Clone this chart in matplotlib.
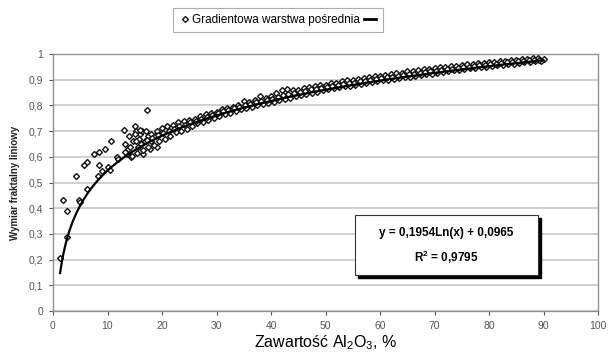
import numpy as np
import matplotlib
matplotlib.use("Agg")
import matplotlib.pyplot as plt
from matplotlib.lines import Line2D
from matplotlib.patches import Rectangle

plt.rcParams['font.family'] = ['Liberation Sans', 'DejaVu Sans']

# ---- data ----
early_x = [1.3, 1.9, 2.5, 2.5, 4.3, 4.8, 5.0, 5.6, 6.2, 6.3, 7.6, 8.4, 8.5, 8.3, 9.5, 8.9,
           10.6, 10.1, 10.4, 11.7, 12.0, 13.0, 13.2, 13.5, 17.2]
early_y = [0.205, 0.433, 0.389, 0.288, 0.526, 0.433, 0.425, 0.570, 0.579, 0.473, 0.611, 0.617,
           0.570, 0.527, 0.630, 0.543, 0.660, 0.559, 0.548, 0.598, 0.590, 0.704, 0.650, 0.610, 0.782]

cluster_x = [13.8, 14.0, 14.6, 15.0, 15.3, 15.8, 16.0, 16.3, 16.8, 17.5, 18.0, 18.8, 19.5,
             13.3, 14.3, 15.6, 16.6, 17.8, 19.0]
cluster_y = [0.63, 0.68, 0.66, 0.72, 0.70, 0.67, 0.69, 0.70, 0.66, 0.68, 0.66, 0.68, 0.69,
             0.62, 0.60, 0.64, 0.61, 0.63, 0.64]

upper_x = list(range(15, 91))
upper_y = [0.690, 0.705, 0.700, 0.690, 0.702, 0.712, 0.718, 0.722, 0.735, 0.738,
           0.745, 0.748, 0.758, 0.768, 0.772, 0.775, 0.785, 0.790, 0.795, 0.802,
           0.818, 0.812, 0.822, 0.838, 0.830, 0.838, 0.848, 0.860, 0.862, 0.858,
           0.860, 0.866, 0.870, 0.874, 0.878, 0.880, 0.886, 0.888, 0.893, 0.898,
           0.900, 0.904, 0.907, 0.910, 0.914, 0.916, 0.920, 0.922, 0.926, 0.928,
           0.932, 0.934, 0.937, 0.940, 0.943, 0.945, 0.948, 0.950, 0.953, 0.955,
           0.957, 0.960, 0.962, 0.964, 0.966, 0.968, 0.970, 0.972, 0.974, 0.976,
           0.978, 0.980, 0.982, 0.983, 0.984, 0.982]

lower_x = [v + 0.5 for v in range(14, 90)]
lower_y = [0.605, 0.615, 0.625, 0.640, 0.645, 0.660, 0.670, 0.680, 0.695, 0.700,
           0.710, 0.718, 0.730, 0.735, 0.745, 0.752, 0.760, 0.765, 0.772, 0.778,
           0.785, 0.790, 0.795, 0.800, 0.805, 0.810, 0.815, 0.820, 0.826, 0.830,
           0.836, 0.840, 0.846, 0.850, 0.854, 0.858, 0.862, 0.866, 0.870, 0.874,
           0.877, 0.880, 0.884, 0.888, 0.891, 0.894, 0.897, 0.900, 0.903, 0.906,
           0.909, 0.912, 0.916, 0.918, 0.921, 0.924, 0.927, 0.930, 0.933, 0.936,
           0.938, 0.941, 0.944, 0.946, 0.949, 0.951, 0.954, 0.956, 0.959, 0.961,
           0.963, 0.966, 0.968, 0.970, 0.972, 0.974]

middle_x = [v + 0.2 for v in range(14, 45)]
middle_y = [0.640, 0.660, 0.650, 0.665, 0.672, 0.685, 0.692, 0.700, 0.708, 0.718,
            0.725, 0.735, 0.740, 0.748, 0.755, 0.764, 0.770, 0.778, 0.782, 0.790,
            0.795, 0.800, 0.806, 0.812, 0.818, 0.822, 0.826, 0.832, 0.840, 0.845, 0.848]

middle2_x = [v + 0.25 for v in range(45, 90)]
middle2_y = [0.852, 0.857, 0.862, 0.864, 0.869, 0.872, 0.876, 0.880, 0.883, 0.887,
             0.889, 0.893, 0.896, 0.900, 0.903, 0.906, 0.909, 0.912, 0.915, 0.918,
             0.921, 0.924, 0.927, 0.929, 0.932, 0.935, 0.938, 0.940, 0.943, 0.946,
             0.948, 0.951, 0.953, 0.956, 0.958, 0.960, 0.962, 0.965, 0.967, 0.969,
             0.971, 0.973, 0.975, 0.977, 0.978]

trend_a = 0.1954
trend_b = 0.0965
series_label = "Gradientowa warstwa pośrednia"
x_ticks = [0, 10, 20, 30, 40, 50, 60, 70, 80, 90, 100]
y_ticks = [0, 0.1, 0.2, 0.3, 0.4, 0.5, 0.6, 0.7, 0.8, 0.9, 1.0]

xs = np.array(early_x + cluster_x + upper_x + lower_x + middle_x + middle2_x, dtype=float)
ys = np.array(early_y + cluster_y + upper_y + lower_y + middle_y + middle2_y, dtype=float)

# ---- figure ----
fig = plt.figure(figsize=(6.11, 3.60), dpi=100)
ax = fig.add_axes([53/611, 49/360, (598-53)/611, (311-54)/360])

ax.set_xlim(0, 100)
ax.set_ylim(0, 1)
ax.set_yticks(y_ticks)
ax.set_xticks(x_ticks)
ax.set_yticklabels([("%g" % v).replace('.', ',') for v in y_ticks])
ax.set_xticklabels([str(v) for v in x_ticks])
ax.tick_params(labelsize=7.5, colors='#555555', length=3, width=0.8, pad=4)
for sp in ax.spines.values():
    sp.set_color('#909090')
    sp.set_linewidth(1.0)
ax.yaxis.grid(True, color='#cccccc', linewidth=1.3)
ax.set_axisbelow(True)

ax.plot(xs, ys, linestyle='none', marker='D', markersize=3.0, markerfacecolor='white',
        markeredgecolor='#111111', markeredgewidth=1.0, zorder=3)

tx = np.linspace(xs.min(), xs.max(), 300)
ax.plot(tx, trend_a * np.log(tx) + trend_b, color='black', linewidth=1.6, zorder=4)

ax.set_ylabel("Wymiar fraktalny liniowy", fontsize=7, fontweight='bold', color='#222222', labelpad=6)
ax.set_xlabel("Zawartość Al$\\mathregular{_2}$O$\\mathregular{_3}$, %", fontsize=11.5,
              color='black', labelpad=2)

# equation box with shadow
bx0, by0 = (355-53)/545*100, (311-275)/257
bw, bh = (538-355)/545*100, (275-215)/257
ax.add_patch(Rectangle((bx0 + 0.6, by0 - 0.012), bw, bh, facecolor='black', edgecolor='black',
                       zorder=5))
ax.add_patch(Rectangle((bx0, by0), bw, bh, facecolor='white', edgecolor='#333333',
                       linewidth=0.8, zorder=6))
ax.text(bx0 + bw/2, by0 + bh*0.70, "y = 0,1954Ln(x) + 0,0965", ha='center', va='center',
        fontsize=8.5, fontweight='bold', zorder=7)
ax.text(bx0 + bw/2, by0 + bh*0.30, "R$\\mathregular{^2}$ = 0,9795", ha='center', va='center',
        fontsize=8.5, fontweight='bold', zorder=7)

# legend
h1 = Line2D([], [], linestyle='none', marker='D', markersize=3.0, markerfacecolor='white',
            markeredgecolor='#111111', markeredgewidth=1.0)
h2 = Line2D([], [], color='black', linewidth=2)
leg = fig.legend([h1, h2], [series_label, ""], loc='center', bbox_to_anchor=(278/611, 1 - 20/360),
                 ncol=2, fontsize=8.5, frameon=True, fancybox=False, handlelength=1.0,
                 handletextpad=0.15, columnspacing=0.3, borderpad=0.5)
leg.get_frame().set_edgecolor('#999999')
leg.get_frame().set_linewidth(0.8)

fig.savefig("out.png", dpi=100)
